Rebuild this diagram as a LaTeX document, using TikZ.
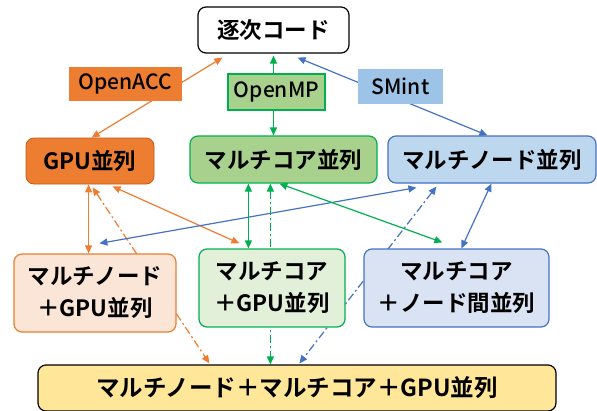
\documentclass[tikz,border=0pt]{standalone}
\usepackage{fontspec}
\setmainfont{Noto Sans CJK JP}[BoldFont={* Bold}]
\newfontfamily\lblfont{Noto Sans CJK JP}[UprightFont={* Medium}]
\usetikzlibrary{arrows.meta}
\definecolor{org}{HTML}{ED7D31}
\definecolor{orgd}{HTML}{C55A11}
\definecolor{orgl}{HTML}{FBE5D6}
\definecolor{grn}{HTML}{00B050}
\definecolor{grnf}{HTML}{A9D18E}
\definecolor{grnl}{HTML}{E2F0D9}
\definecolor{blu}{HTML}{4472C4}
\definecolor{bluf}{HTML}{BDD7EE}
\definecolor{blul}{HTML}{DAE3F3}
\definecolor{smf}{HTML}{9DC3E6}
\definecolor{yel}{HTML}{FFE699}
\pgfdeclarelayer{bg}
\pgfsetlayers{bg,main}
\tikzset{
  box/.style={rounded corners=8pt, line width=1.2pt, inner sep=0pt, align=center,
    font=\fontsize{22.5}{32}\selectfont\bfseries},
  lbl/.style={inner sep=0pt, font=\lblfont\fontsize{21}{25}\selectfont},
  conn/.style={line width=1.2pt, {Triangle[length=8pt,width=7pt]}-{Triangle[length=8pt,width=7pt]}},
  ddot/.style={dash pattern=on 8pt off 3pt on 2pt off 3pt},
  oarr/.style={conn, draw=org},
  garr/.style={conn, draw=grn},
  barr/.style={conn, draw=blu},
}
\begin{document}
\begin{tikzpicture}[x=1pt,y=-1pt]
\useasboundingbox (0,0) rectangle (597,410);
% nodes
\node[box, draw=black, fill=white, minimum width=151pt, minimum height=46pt] (seq) at (273.5,30) {逐次コード};
\node[box, draw=orgd, line width=0.8pt, fill=org, minimum width=128pt, minimum height=46pt] (gpu) at (90,161) {GPU並列};
\node[box, draw=grn, fill=grnf, minimum width=187pt, minimum height=47pt] (mc) at (283.5,159.5) {マルチコア並列};
\node[box, draw=blu, fill=bluf, minimum width=208pt, minimum height=47pt] (mn) at (492,159.5) {マルチノード並列};
\node[box, draw=org, fill=orgl, minimum width=162pt, minimum height=78pt] (mngpu) at (95,293) {マルチノード\\＋GPU並列};
\node[box, draw=grn, fill=grnl, minimum width=146pt, minimum height=78pt] (mcgpu) at (272,288) {マルチコア\\＋GPU並列};
\node[box, draw=blu, fill=blul, minimum width=185pt, minimum height=78pt] (mcmn) at (456.5,288) {マルチコア\\＋ノード間並列};
\node[box, draw=black, fill=yel, minimum width=518pt, minimum height=46pt, font=\fontsize{23.5}{28}\selectfont\bfseries] (bot) at (297,388) {マルチノード＋マルチコア＋GPU並列};
% labels
\node[lbl, fill=org, minimum width=113pt, minimum height=34pt] (acc) at (125.5,84) {OpenACC};
\node[lbl, fill=grnf, draw=grn, line width=1.2pt, minimum width=97pt, minimum height=36pt] (omp) at (276.5,92) {OpenMP};
\node[lbl, fill=smf, minimum width=85pt, minimum height=35pt] (smint) at (400.5,86.5) {SMint};
% connectors
\begin{pgfonlayer}{bg}
\draw[oarr] ([xshift=25pt,yshift=-4pt]seq.south west) -- ([xshift=66pt]gpu.north west);
\draw[garr] ([yshift=-2pt]seq.south) -- ([yshift=0pt]seq.south |- mc.north);
\draw[barr] ([xshift=-52pt,yshift=-4pt]seq.south east) -- ([xshift=100pt]mn.north west);
\draw[oarr] ([xshift=63pt]gpu.south west) -- ([xshift=63pt]gpu.south west |- mngpu.north);
\draw[oarr, ddot] ([xshift=67pt,yshift=-3pt]gpu.south west) -- ([xshift=172pt,yshift=1pt]bot.north west);
\draw[oarr] ([xshift=87pt,yshift=-2pt]gpu.south west) -- ([xshift=41pt,yshift=5pt]mcgpu.north west);
\draw[barr] ([xshift=86pt,yshift=10pt]mngpu.north west) -- ([xshift=29pt,yshift=-4pt]mn.south west);
\draw[garr] ([xshift=59pt]mc.south west) -- ([xshift=59pt]mc.south west |- mcgpu.north);
\draw[garr, ddot] ([xshift=81pt]mc.south west) -- ([xshift=81pt]mc.south west |- bot.north);
\draw[garr] ([xshift=90pt]mc.south west) -- ([xshift=79pt,yshift=6pt]mcmn.north west);
\draw[barr, ddot] ([xshift=49pt,yshift=-3pt]mn.south west) -- ([xshift=262pt,yshift=1pt]bot.north west);
\draw[barr] ([xshift=104pt]mn.south west) -- ([xshift=98pt]mcmn.north west);
\end{pgfonlayer}
\end{tikzpicture}
\end{document}
